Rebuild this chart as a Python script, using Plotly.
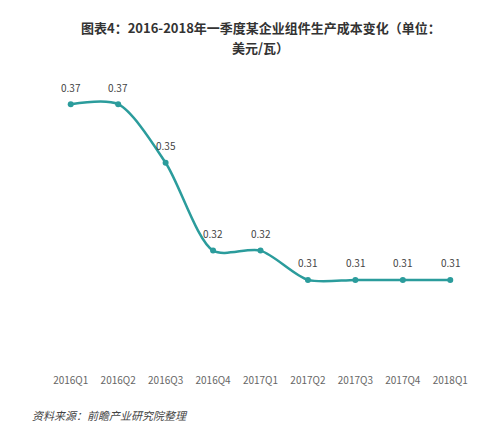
import plotly.graph_objects as go

categories = ["2016Q1","2016Q2","2016Q3","2016Q4","2017Q1","2017Q2","2017Q3","2017Q4","2018Q1"]
values = [0.37,0.37,0.35,0.32,0.32,0.31,0.31,0.31,0.31]
labels = ["0.37","0.37","0.35","0.32","0.32","0.31","0.31","0.31","0.31"]

xs = list(range(len(categories)))
fig = go.Figure(go.Scatter(
    x=xs, y=values, mode="lines+markers",
    line=dict(color="#2b9c9c", width=2.5, shape="spline", smoothing=0.8),
    marker=dict(size=6, color="#2b9c9c"), cliponaxis=False))

anns = [dict(x=x, y=v, text=t, xref="x", yref="y", showarrow=False, yshift=17,
             font=dict(size=10, color="#444")) for x, v, t in zip(xs, values, labels)]
anns += [
    dict(text="<b>图表4：2016-2018年一季度某企业组件生产成本变化（单位：</b>",
         x=0.5, y=1.104, xref="paper", yref="paper", yanchor="middle", showarrow=False,
         font=dict(size=13, color="#333")),
    dict(text="<b>美元/瓦）</b>",
         x=0.5, y=1.04, xref="paper", yref="paper", yanchor="middle", showarrow=False,
         font=dict(size=13, color="#333")),
    dict(text="<i>资料来源：前瞻产业研究院整理</i>", xref="paper", yref="paper",
         x=-0.04, y=-0.165, xanchor="left", showarrow=False, font=dict(size=11, color="#444")),
]

fig.update_layout(
    width=500, height=438, plot_bgcolor="white", paper_bgcolor="white",
    margin=dict(l=39, r=34, t=52, b=73), showlegend=False,
    font=dict(family="Noto Sans CJK SC", color="#555"),
    xaxis=dict(range=[-0.5, 8.5], tickvals=xs, ticktext=categories,
               showgrid=False, zeroline=False, showline=False, tickfont=dict(size=10, color="#666"), ticklen=0),
    yaxis=dict(range=[0.2782, 0.3851], visible=False),
    annotations=anns,
)
fig.write_html("out.html")
